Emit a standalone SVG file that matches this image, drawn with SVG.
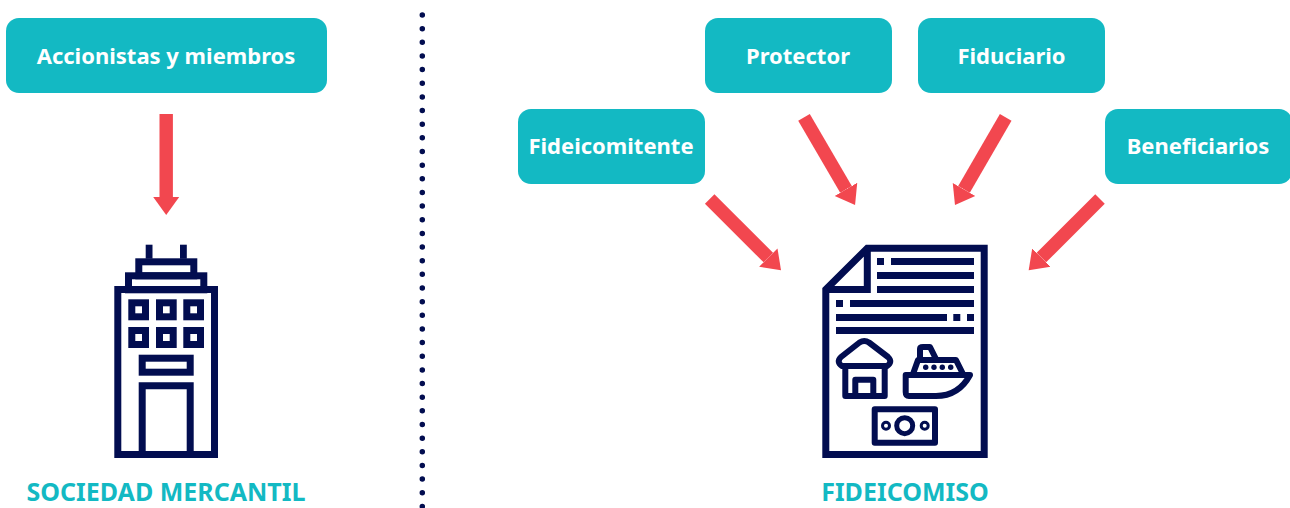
<svg xmlns="http://www.w3.org/2000/svg" width="1290" height="508" viewBox="0 0 1290 508">
<style>
.box{fill:#13b9c3}
.lbl{font:700 22px "Noto Sans","Open Sans",sans-serif;fill:#fff;text-anchor:middle}
.cap{font:700 25px "Noto Sans","Open Sans",sans-serif;fill:#13b9c3;text-anchor:middle}
.ico{fill:none;stroke:#020d50;stroke-width:7}
.thin{fill:none;stroke:#020d50;stroke-width:6;stroke-linejoin:round}
.ink{fill:#020d50}
.arr{stroke:#f2474f;stroke-width:13.4;fill:none;marker-end:url(#head)}
</style>
<defs>
<marker id="head" markerUnits="userSpaceOnUse" markerWidth="30" markerHeight="30" refX="0" refY="15" orient="auto"><path d="M0 2L18 15L0 28Z" fill="#f2474f"/></marker>
</defs>
<rect width="1290" height="508" fill="#fff"/>
<g id="divider"><line x1="422.3" y1="15" x2="422.3" y2="508" stroke="#020d50" stroke-width="5.5" stroke-linecap="round" stroke-dasharray="0 13.65"/></g>
<g id="connectors">
<line class="arr" x1="166.2" y1="114" x2="166.2" y2="197"/>
<line class="arr" x1="709.7" y1="199" x2="768.3" y2="257.6"/>
<line class="arr" x1="804" y1="117.3" x2="846" y2="189.4"/>
<line class="arr" x1="1005.7" y1="117.3" x2="964" y2="189.4"/>
<line class="arr" x1="1100" y1="199" x2="1041.4" y2="257.6"/>
</g>
<g id="accionistas"><rect class="box" x="6" y="18" width="321" height="75" rx="13"/><text class="lbl" x="166" y="64">Accionistas y miembros</text></g>
<g id="protector"><rect class="box" x="705" y="18" width="187" height="75" rx="13"/><text class="lbl" x="798" y="64">Protector</text></g>
<g id="fiduciario"><rect class="box" x="918" y="18" width="187" height="75" rx="13"/><text class="lbl" x="1011.5" y="64">Fiduciario</text></g>
<g id="fideicomitente"><rect class="box" x="518" y="109" width="187" height="75" rx="13"/><text class="lbl" x="611" y="154">Fideicomitente</text></g>
<g id="beneficiarios"><rect class="box" x="1105" y="109" width="187" height="75" rx="13"/><text class="lbl" x="1198" y="154">Beneficiarios</text></g>
<g id="sociedad">
<rect class="ink" x="145.7" y="244.7" width="6.8" height="14"/><rect class="ink" x="180" y="244.7" width="6.8" height="14"/>
<rect class="ico" x="138.8" y="261.8" width="55" height="14"/>
<rect class="ico" x="128.5" y="275.8" width="75.3" height="14"/>
<rect class="ico" x="117.8" y="289.5" width="96.7" height="165"/>
<rect class="ico" x="131.8" y="302.8" width="13.7" height="14"/><rect class="ico" x="159.5" y="302.8" width="13.7" height="14"/><rect class="ico" x="186.8" y="302.8" width="13.7" height="14"/>
<rect class="ico" x="131.8" y="330.5" width="13.7" height="14"/><rect class="ico" x="159.5" y="330.5" width="13.7" height="14"/><rect class="ico" x="186.8" y="330.5" width="13.7" height="14"/>
<rect class="ico" x="142.2" y="358.2" width="48" height="14"/>
<path class="ico" d="M142.2 454.5V385.8H190.2V454.5"/>
<text class="cap" x="166" y="501">SOCIEDAD MERCANTIL</text>
</g>
<g id="fideicomiso">
<path class="ico" d="M867.3 248.2H984.2V454.6H825.8V289.5ZM867.3 248.2V289.5H825.8"/>
<g class="ink">
<rect x="877" y="258" width="7" height="7"/><rect x="891" y="258" width="83" height="7"/>
<rect x="877" y="272" width="97" height="7"/><rect x="877" y="286" width="97" height="7"/>
<rect x="836" y="300" width="7" height="7"/><rect x="850" y="300" width="124" height="7"/>
<rect x="836" y="314" width="111" height="7"/><rect x="953.3" y="314" width="7" height="7"/><rect x="967" y="314" width="7" height="7"/>
<rect x="836" y="327" width="138" height="7"/>
<circle cx="925.7" cy="367.3" r="2.7"/><circle cx="934" cy="367.3" r="2.7"/><circle cx="942.3" cy="367.3" r="2.7"/><circle cx="950.7" cy="367.3" r="2.7"/>
</g>
<path class="thin" stroke-linejoin="miter" d="M845.3 368V396H884.7V368M855.3 396V379.7H873.3V396"/>
<path class="thin" d="M842 366Q836 362 841 357L859.5 342.5Q864.3 339.5 869 342.5L888 357Q893 362 887 366Z"/>
<path class="thin" d="M905.7 375H970C963 388 952 396 936 396H909Q905.7 396 905.7 392ZM913 374L918 360H956L963 374M920 359V349Q920 347 923 347H930L936 359"/>
<rect class="thin" x="874.7" y="409.3" width="60.3" height="33.4"/>
<circle cx="904.7" cy="425.7" r="8" fill="none" stroke="#020d50" stroke-width="5"/>
<circle cx="886" cy="425.7" r="3.5" fill="none" stroke="#020d50" stroke-width="3"/>
<circle cx="924.7" cy="425.7" r="3.5" fill="none" stroke="#020d50" stroke-width="3"/>
<text class="cap" x="905" y="501">FIDEICOMISO</text>
</g>
</svg>
